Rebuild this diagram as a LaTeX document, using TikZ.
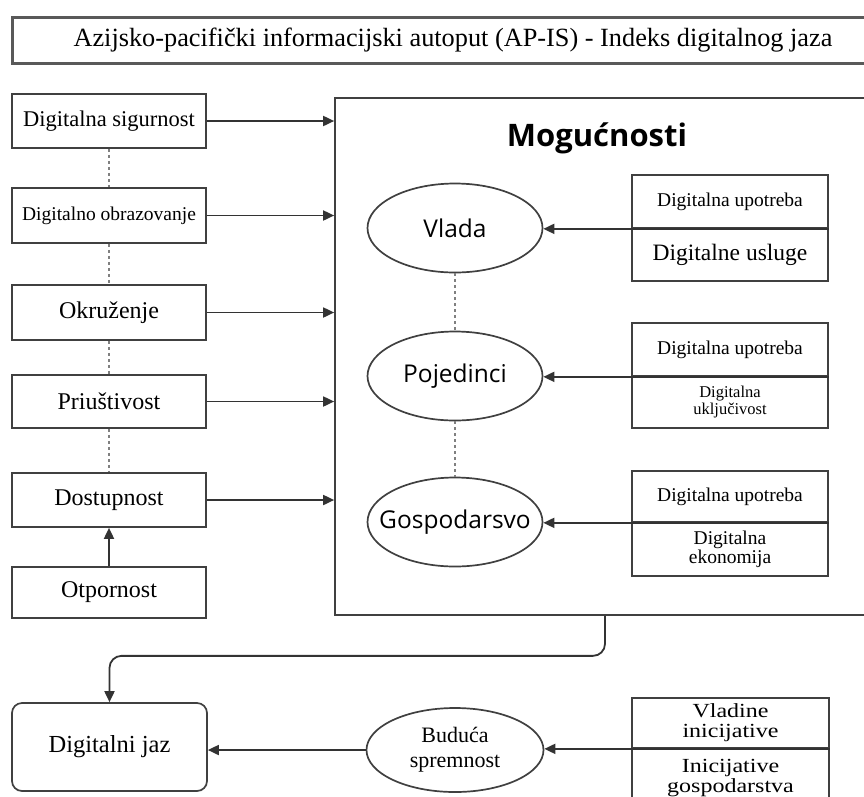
\documentclass[tikz,border=0pt]{standalone}
\usepackage{fontspec}
\setmainfont{Liberation Serif}
\newfontfamily\sansf{Open Sans}
\newfontfamily\widef[FakeStretch=1.2]{Liberation Serif}
\usetikzlibrary{arrows.meta,shapes.geometric}
\newcommand{\myfs}[2]{\fontsize{#1}{#2}\selectfont}
\newcommand{\zw}[1]{\makebox[0pt]{#1}}
\begin{document}
\begin{tikzpicture}[x=1pt,y=-1pt,
 box/.style={draw=black!75, line width=1.7pt, inner sep=0pt, align=center},
 lbox/.style={box, minimum width=194pt},
 rbox/.style={box, minimum width=196pt},
 ell/.style={ellipse, draw=black!75, line width=1.7pt, minimum width=175pt, minimum height=89pt, inner sep=0pt, font=\sansf\myfs{24.5}{28}},
 arr/.style={draw=black!80, line width=1.8pt, -{Triangle[length=11pt,width=10pt]}},
 dot/.style={draw=black!50, line width=2pt, dash pattern=on 3pt off 3pt},
]
\useasboundingbox (0,0) rectangle (864,796);
\fill[white] (0,0) rectangle (864,796);

\node[draw=black!65, line width=3pt, minimum width=882pt, minimum height=46pt, inner sep=0pt, font=\myfs{26.3}{30}] (title) at (453,40) {Azijsko-pacifički informacijski autoput (AP-IS) - Indeks digitalnog jaza};

\node[lbox, minimum height=54pt, font=\myfs{22.5}{26}] (sig) at (109,121) {Digitalna sigurnost};
\node[lbox, minimum height=55pt, font=\myfs{19.5}{23}] (obr) at (109,215.5) {Digitalno obrazovanje};
\node[lbox, minimum height=55pt, font=\myfs{24}{28}] (okr) at (109,312.5) {Okruženje};
\node[lbox, minimum height=53pt, font=\myfs{24}{28}] (pri) at (109,401.5) {Priuštivost};
\node[lbox, minimum height=54pt, font=\myfs{24}{28}] (dos) at (109,500) {Dostupnost};
\node[lbox, minimum height=51pt, font=\myfs{24}{28}] (otp) at (109,592.5) {Otpornost};

\node[draw=black!75, line width=1.7pt, minimum width=540pt, minimum height=517pt, inner sep=0pt] (mog) at (605,356.5) {};
\node[font=\sansf\bfseries\myfs{31}{34}] (mogt) at (597,138) {Mogućnosti};

\node[ell] (vla) at (455,228) {\zw{Vlada}};
\node[ell] (poj) at (455,376) {\zw{Pojedinci}};
\node[ell] (gos) at (455,522) {\zw{Gospodarsvo}};

\node[rbox, minimum height=53pt, font=\myfs{19.5}{22}] (u1) at (730,201.5) {Digitalna upotreba};
\node[rbox, minimum height=53pt, font=\myfs{23.5}{26}] (l1) at (730,254.5) {Digitalne usluge};
\node[rbox, minimum height=53pt, font=\myfs{19.5}{22}] (u2) at (730,349.5) {Digitalna upotreba};
\node[rbox, minimum height=52pt, font=\myfs{16.5}{17}] (l2) at (730,402) {Digitalna\\uključivost};
\node[rbox, minimum height=51pt, font=\myfs{19.5}{22}] (u3) at (730,496.5) {Digitalna upotreba};
\node[rbox, minimum height=54pt, font=\myfs{19.5}{19}] (l3) at (730,549) {Digitalna\\ekonomija};

\node[box, rounded corners=10pt, minimum width=195pt, minimum height=88pt, font=\myfs{24.5}{28}] (jaz) at (109.5,747) {Digitalni jaz};
\node[ell, minimum width=177pt, minimum height=84pt, font=\myfs{22}{25}, align=center] (bud) at (455,750) {Buduća\\spremnost};
\node[rbox, minimum width=197pt, minimum height=50pt, font=\widef\myfs{20}{20}] (vi) at (730.5,723) {Vladine\\inicijative};
\node[rbox, minimum width=197pt, minimum height=60pt, font=\widef\myfs{20}{20}] (gi) at (730.5,778) {Inicijative\\gospodarstva};

\foreach \n in {sig,obr,okr,pri,dos}
  \draw[arr] (\n.east) -- (\n.east -| mog.west);
\draw[arr] (otp.north) -- (dos.south);
\draw[dot] (sig.south) -- (obr.north);
\draw[dot] (obr.south) -- (okr.north);
\draw[dot] (okr.south) -- (pri.north);
\draw[dot] (pri.south) -- (dos.north);
\draw[dot] (vla.south) -- (poj.north);
\draw[dot] (poj.south) -- (gos.north);

\draw[arr] (u1.south east) -- (u1.south east -| vla.east);
\draw[arr] (u2.south east) -- (u2.south east -| poj.east);
\draw[arr] (u3.south east) -- (u3.south east -| gos.east);

\draw[arr, rounded corners=12pt] (mog.south) -- ++(0,40) -| (jaz.north);
\draw[arr] (bud.west) -- (bud.west -| jaz.east);
\draw[arr] (vi.south east) -- (vi.south east -| bud.east);
\end{tikzpicture}
\end{document}
